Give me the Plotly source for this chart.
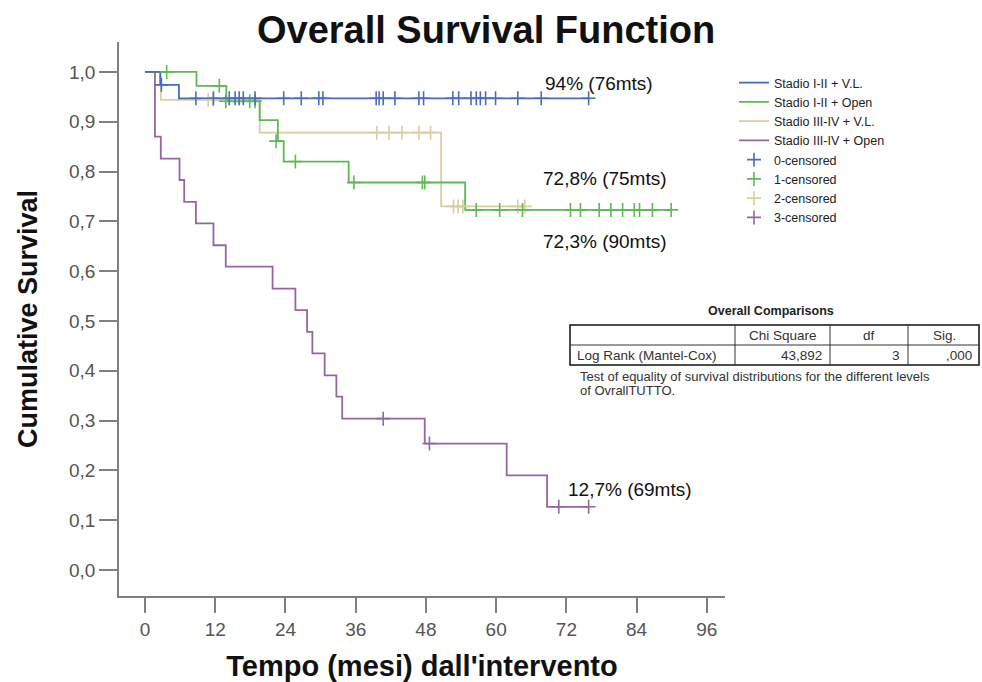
import plotly.graph_objects as go

# ---------------- data ----------------
groups = ["Stadio I-II + V.L.", "Stadio I-II + Open", "Stadio III-IV + V.L.", "Stadio III-IV + Open"]
censor_names = ["0-censored", "1-censored", "2-censored", "3-censored"]
colors = ["#4a6cc0", "#5db856", "#d8cf9e", "#9366a8"]

blue_t = [0, 2.6, 5.8, 76.0]
blue_s = [1.0, 0.974, 0.947, 0.947]
blue_ct = [2.8, 8.7, 11.7, 14.4, 15.4, 16.1, 16.8, 18.8, 23.7, 26.7, 29.7, 30.4, 39.5, 40.0, 40.7,
           42.7, 46.8, 47.6, 52.6, 53.6, 55.7, 56.6, 57.3, 58.2, 59.9, 63.7, 67.7, 75.8]
blue_cs = [0.974] + [0.947] * 27

green_t = [0, 8.8, 13.9, 19.6, 22.7, 23.7, 34.8, 54.7, 90.0]
green_s = [1.0, 0.972, 0.941, 0.903, 0.861, 0.820, 0.778, 0.723, 0.723]
green_ct = [3.7, 12.7, 13.8, 17.9, 18.8, 22.4, 25.7, 35.7, 47.4, 47.8, 56.6, 60.6, 64.5, 72.7,
            74.4, 77.6, 79.6, 81.6, 83.6, 84.5, 86.7, 89.9]
green_cs = [1.0, 0.972, 0.941, 0.941, 0.941, 0.861, 0.820, 0.778, 0.778, 0.778] + [0.723] * 12

tan_t = [0, 2.7, 19.6, 50.6, 65.0]
tan_s = [1.0, 0.944, 0.878, 0.730, 0.730]
tan_ct = [10.8, 11.6, 39.6, 41.7, 43.9, 46.8, 48.8, 52.7, 53.5, 54.3, 63.7, 64.9]
tan_cs = [0.944, 0.944, 0.878, 0.878, 0.878, 0.878, 0.878, 0.730, 0.730, 0.730, 0.730, 0.730]

purple_t = [0, 1.7, 2.7, 5.9, 6.7, 8.7, 11.7, 13.8, 21.8, 25.7, 27.7, 28.6, 30.7, 32.7, 33.7,
            47.8, 61.8, 68.7, 75.8]
purple_s = [1.0, 0.870, 0.826, 0.783, 0.739, 0.696, 0.652, 0.609, 0.565, 0.522, 0.478, 0.435,
            0.391, 0.348, 0.304, 0.254, 0.190, 0.127, 0.127]
purple_ct = [40.7, 48.6, 70.7, 75.8]
purple_cs = [0.304, 0.254, 0.127, 0.127]

x_ticks = [0, 12, 24, 36, 48, 60, 72, 84, 96]
y_ticks = [0.0, 0.1, 0.2, 0.3, 0.4, 0.5, 0.6, 0.7, 0.8, 0.9, 1.0]

end_labels = ["94% (76mts)", "72,8% (75mts)", "72,3% (90mts)", "12,7% (69mts)"]

table_header = ["Chi Square", "df", "Sig."]
table_row = ["Log Rank (Mantel-Cox)", "43,892", "3", ",000"]
table_note = ["Test of equality of survival distributions for the different levels",
              "of OvrallTUTTO."]

# ---------------- layout helpers (pixel -> paper) ----------------
L, R, T, B = 119, 725, 42, 596
W, H = 982, 682
def px(x):
    return (x - L) / (R - L)
def py(y):
    return (B - y) / (B - T)

FONT = "Liberation Sans, Arial, sans-serif"

fig = go.Figure()

curves = [
    (blue_t, blue_s, blue_ct, blue_cs),
    (green_t, green_s, green_ct, green_cs),
    (tan_t, tan_s, tan_ct, tan_cs),
    (purple_t, purple_s, purple_ct, purple_cs),
]
draw_order = [2, 3, 1, 0]
for i in draw_order:
    t, s, ct, cs = curves[i]
    fig.add_trace(go.Scatter(
        x=t, y=s, mode="lines", name=groups[i], legendrank=i + 1,
        line=dict(color=colors[i], width=1.8, shape="hv"), hoverinfo="x+y"))
for i in draw_order:
    t, s, ct, cs = curves[i]
    fig.add_trace(go.Scatter(
        x=ct, y=cs, mode="markers", name=censor_names[i], legendrank=i + 5,
        marker=dict(symbol="cross-thin", size=10, color=colors[i],
                    line=dict(color=colors[i], width=1.6))))

annotations = []
label_pos = [(543, 83), (541, 179), (541, 241), (566, 490)]
for txt, (x, y) in zip(end_labels, label_pos):
    annotations.append(dict(text=txt, x=px(x), y=py(y), xref="paper", yref="paper",
                            xanchor="left", yanchor="middle", showarrow=False,
                            font=dict(family=FONT, size=19, color="#111")))

# comparison table
annotations.append(dict(text="<b>Overall Comparisons</b>", x=px(771), y=py(311), xref="paper",
                        yref="paper", xanchor="center", yanchor="middle", showarrow=False,
                        font=dict(family=FONT, size=12.5, color="#222")))
col_edges = [570, 735, 830, 908, 980]
for j, h in enumerate(table_header):
    cx = (col_edges[j + 1] + col_edges[j + 2]) / 2
    annotations.append(dict(text=h, x=px(cx), y=py(335.5), xref="paper", yref="paper",
                            xanchor="center", yanchor="middle", showarrow=False,
                            font=dict(family=FONT, size=13.5, color="#333")))
annotations.append(dict(text=table_row[0], x=px(575), y=py(355.5), xref="paper", yref="paper",
                        xanchor="left", yanchor="middle", showarrow=False,
                        font=dict(family=FONT, size=13.5, color="#333")))
for j, v in enumerate(table_row[1:]):
    rx = col_edges[j + 2] - 6
    annotations.append(dict(text=v, x=px(rx), y=py(355.5), xref="paper", yref="paper",
                            xanchor="right", yanchor="middle", showarrow=False,
                            font=dict(family=FONT, size=13.5, color="#333")))
for k, line in enumerate(table_note):
    annotations.append(dict(text=line, x=px(578), y=py(376 + 14.5 * k), xref="paper",
                            yref="paper", xanchor="left", yanchor="middle", showarrow=False,
                            font=dict(family=FONT, size=13, color="#333")))

shapes = [
    dict(type="rect", xref="paper", yref="paper", x0=px(570), x1=px(979), y0=py(365), y1=py(325),
         line=dict(color="#111", width=1.5)),
    dict(type="line", xref="paper", yref="paper", x0=px(570), x1=px(979), y0=py(345), y1=py(345),
         line=dict(color="#333", width=1)),
]
for xe in col_edges[1:4]:
    shapes.append(dict(type="line", xref="paper", yref="paper", x0=px(xe), x1=px(xe),
                       y0=py(365), y1=py(325), line=dict(color="#333", width=1)))

fig.update_layout(
    width=W, height=H,
    margin=dict(l=L, r=W - R, t=T, b=H - B, autoexpand=False),
    paper_bgcolor="white", plot_bgcolor="white",
    separators=", ",
    font=dict(family=FONT),
    title=dict(text="<b>Overall Survival Function</b>", x=0.495, xref="container",
               y=1 - 30 / H, yref="container", xanchor="center", yanchor="middle",
               font=dict(family=FONT, size=38, color="#111")),
    showlegend=True,
    legend=dict(x=px(734), y=py(68), xref="paper", yref="paper", xanchor="left", yanchor="top",
                font=dict(family=FONT, size=12.5, color="#222"), tracegroupgap=0,
                itemwidth=30, bgcolor="rgba(0,0,0,0)"),
    annotations=annotations,
    shapes=shapes,
)
fig.update_xaxes(range=[-4.44, 99.1], tickvals=x_ticks, ticktext=[str(v) for v in x_ticks],
                 showline=True, linecolor="#808080", linewidth=1.5, ticks="outside", ticklen=15,
                 tickwidth=1.5, tickcolor="#808080", showgrid=False, zeroline=False,
                 tickfont=dict(family=FONT, size=19, color="#555"),
                 title=dict(text="<b>Tempo (mesi) dall'intervento</b>", standoff=20,
                            font=dict(family=FONT, size=29, color="#111")))
fig.update_yaxes(range=[-0.052, 1.060], tickvals=y_ticks, tickformat=".1f",
                 showline=True, linecolor="#808080", linewidth=1.5, ticks="outside", ticklen=18,
                 tickwidth=1.5, tickcolor="#808080", showgrid=False, zeroline=False,
                 tickfont=dict(family=FONT, size=19, color="#555"),
                 title=dict(text="<b>Cumulative Survival</b>", standoff=24,
                            font=dict(family=FONT, size=27, color="#111")))

fig.write_html("out.html", config={"displayModeBar": False},
               post_script="document.body.style.margin='0';")
